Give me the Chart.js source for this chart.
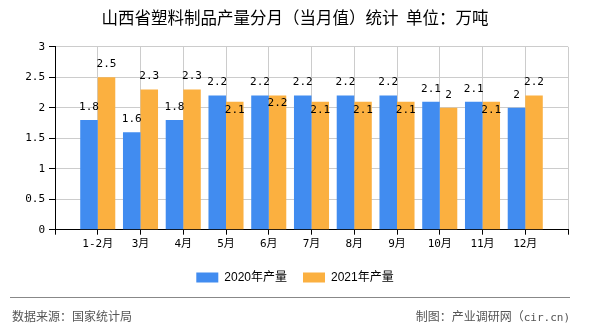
<!DOCTYPE html>
<html>
<head>
<meta charset="utf-8">
<script src="https://cdn.jsdelivr.net/npm/chart.js@4/dist/chart.umd.min.js"></script>
<style>
  body { margin: 0; background: #fff; }
  #wrap { position: relative; width: 590px; height: 330px; }
  #line { position: absolute; left: 10px; top: 297px; width: 560px; height: 1px; background: #888; }
  .foot { position: absolute; top: 308px; font: 12px 'Noto Sans CJK SC', sans-serif; color: #555; line-height: 16px; white-space: nowrap; }
  .mono { font-family: 'DejaVu Sans Mono', monospace; font-size: 11px; }
</style>
</head>
<body>
<div id="wrap">
  <canvas id="myChart" width="590" height="330"></canvas>
  <div id="line"></div>
  <div class="foot" style="left:12px">数据来源：国家统计局</div>
  <div class="foot" style="right:20px">制图：产业调研网（<span class="mono">cir.cn)</span></div>
</div>
<script>
var months = ['1-2月','3月','4月','5月','6月','7月','8月','9月','10月','11月','12月'];
var output2020 = [1.8, 1.6, 1.8, 2.2, 2.2, 2.2, 2.2, 2.2, 2.1, 2.1, 2];
var output2021 = [2.5, 2.3, 2.3, 2.1, 2.2, 2.1, 2.1, 2.1, 2, 2.1, 2.2];
var yTicks = [0, 0.5, 1, 1.5, 2, 2.5, 3];
// which 2021 labels sit inside the bar top
var inside2021 = [0, 0, 0, 1, 1, 1, 1, 1, 0, 1, 0];

var monoFont = "'DejaVu Sans Mono', 'Noto Sans CJK SC', monospace";
Chart.defaults.font.family = "'Liberation Sans', 'Noto Sans CJK SC', sans-serif";
Chart.defaults.color = '#000';

var valueLabels = {
  id: 'valueLabels',
  afterDatasetsDraw: function(chart) {
    var ctx = chart.ctx;
    ctx.save();
    ctx.font = '11px ' + monoFont;
    ctx.fillStyle = '#000';
    ctx.textAlign = 'center';
    ctx.textBaseline = 'middle';
    chart.data.datasets.forEach(function(ds, di) {
      chart.getDatasetMeta(di).data.forEach(function(bar, i) {
        var v = ds.data[i].y;
        var y = bar.y - 13;
        if (di == 1 && inside2021[i]) y = bar.y + 8;
        ctx.fillText(String(v), bar.x, y);
      });
    });
    ctx.restore();
  }
};

new Chart(document.getElementById('myChart'), {
  type: 'bar',
  data: {
    datasets: [{
      label: '2020年产量',
      data: output2020.map(function(v, i) { return {x: i, y: v}; }),
      backgroundColor: '#418CF0'
    }, {
      label: '2021年产量',
      data: output2021.map(function(v, i) { return {x: i, y: v}; }),
      backgroundColor: '#FBB040'
    }]
  },
  options: {
    responsive: false,
    animation: false,
    categoryPercentage: 0.82,
    barPercentage: 1,
    layout: { padding: { left: 0, right: 0, top: 0, bottom: 36.5 } },
    scales: {
      x: {
        type: 'linear',
        offset: false,
        min: -1,
        max: 11,
        afterFit: function(s) { s.height = 25.8; },
        afterBuildTicks: function(s) {
          s.ticks = [];
          for (var i = -1; i <= 11; i++) s.ticks.push({value: i});
        },
        ticks: {
          autoSkip: false,
          maxRotation: 0,
          padding: 3,
          font: { size: 11, family: monoFont },
          callback: function(v) { return months[v] || ''; }
        },
        grid: { offset: false, color: '#ccc', tickColor: '#000', tickLength: 5 },
        border: { color: '#000' }
      },
      y: {
        min: 0,
        max: 3,
        afterFit: function(s) { s.width = 55; },
        afterBuildTicks: function(s) {
          s.ticks = yTicks.map(function(v) { return {value: v}; });
        },
        ticks: {
          padding: 4,
          font: { size: 11, family: monoFont },
          callback: function(v) { return String(v); }
        },
        grid: { color: '#ccc', tickColor: '#000', tickLength: 6 },
        border: { color: '#000' }
      },
      // empty right margin so title/legend stay centred on the canvas
      yRight: {
        position: 'right',
        afterFit: function(s) { s.width = 22; },
        ticks: { display: false },
        grid: { display: false },
        border: { display: false }
      }
    },
    plugins: {
      title: {
        display: true,
        text: '山西省塑料制品产量分月（当月值）统计  单位：万吨',
        color: '#000',
        font: { size: 16.5, weight: 'normal', family: "'Noto Sans CJK SC', sans-serif" },
        padding: { top: 8, bottom: 19 }
      },
      legend: {
        position: 'bottom',
        labels: {
          boxWidth: 22,
          boxHeight: 10,
          padding: 16,
          font: { size: 12 }
        }
      },
      tooltip: { enabled: false }
    }
  },
  plugins: [valueLabels]
});
</script>
</body>
</html>
